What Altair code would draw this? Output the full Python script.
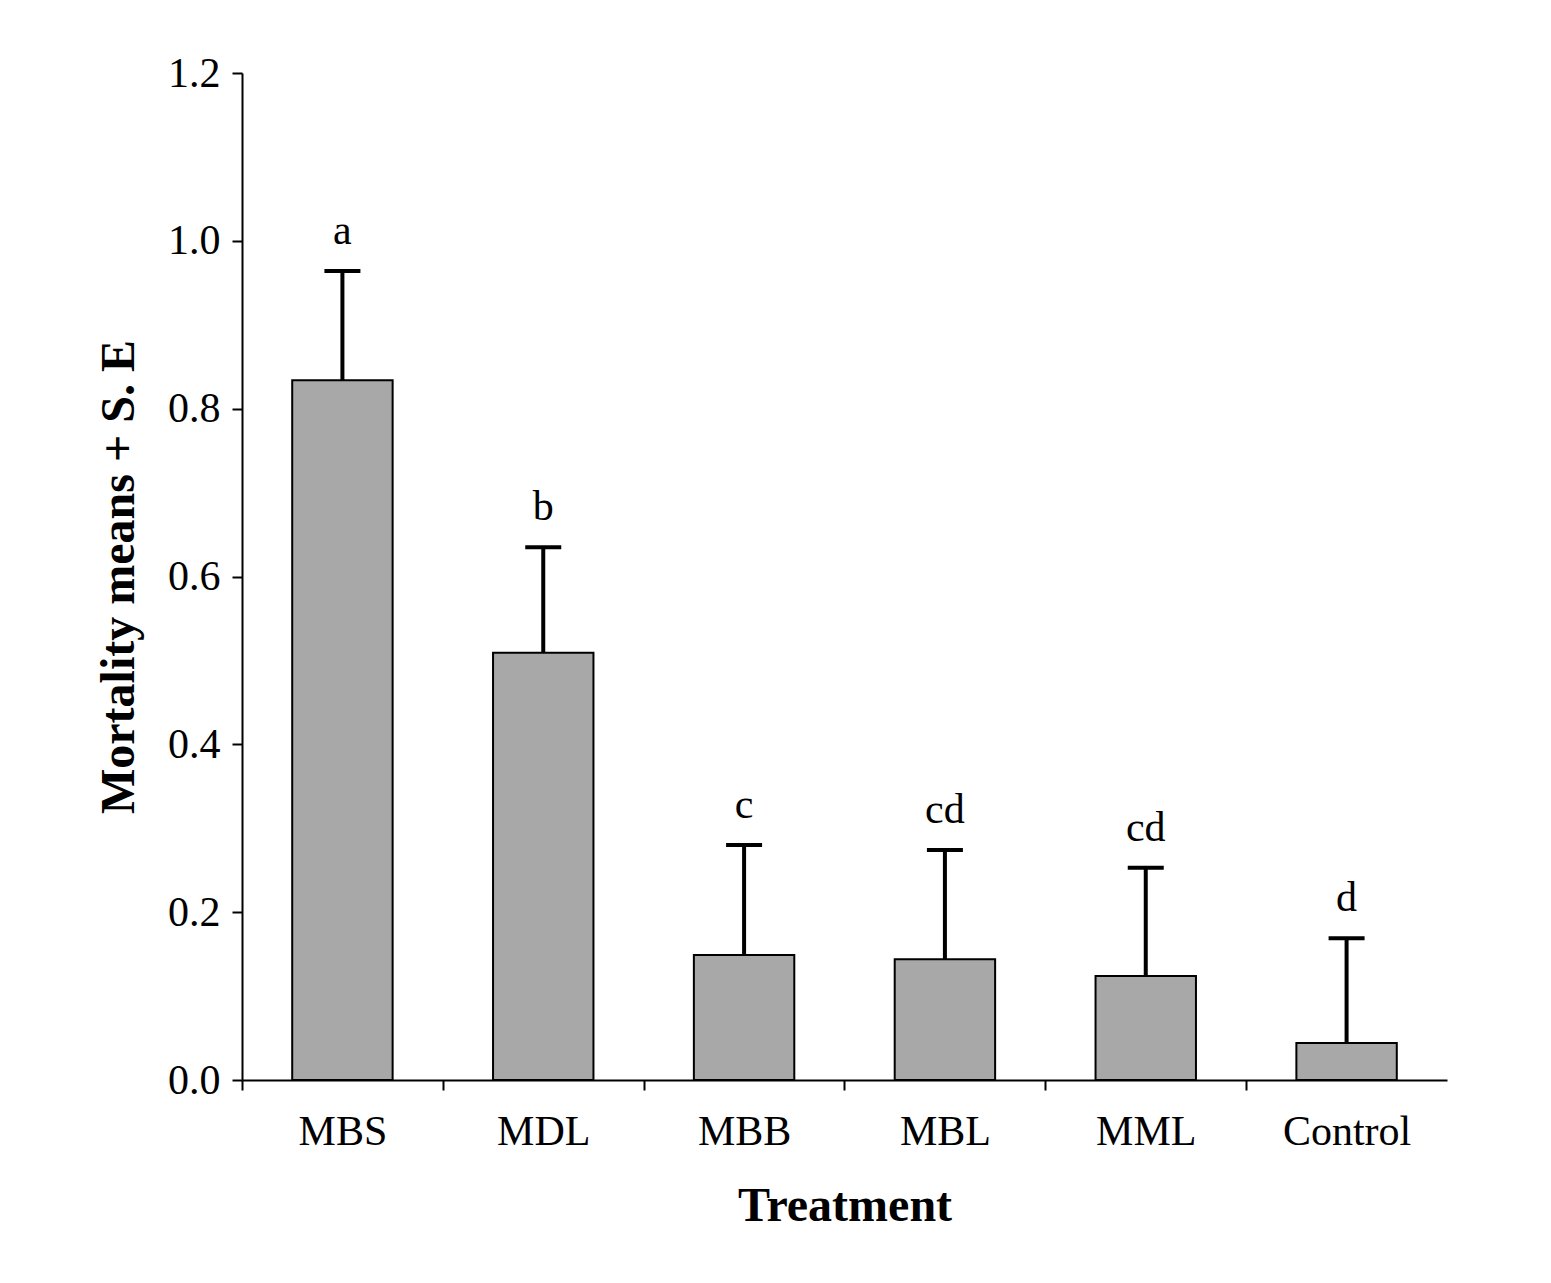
import altair as alt
import pandas as pd

treatments = ["MBS", "MDL", "MBB", "MBL", "MML", "Control"]
means = [0.834, 0.509, 0.149, 0.144, 0.124, 0.044]
upper = [0.964, 0.635, 0.280, 0.274, 0.253, 0.169]
letters = ["a", "b", "c", "cd", "cd", "d"]

df = pd.DataFrame({"treatment": treatments, "mean": means, "upper": upper, "letter": letters})

FONT = "Liberation Serif"
W, H = 1205, 1007
PAD_IN, PAD_OUT = 0.5, 0.25
STEP = W / (len(treatments) - PAD_IN + 2 * PAD_OUT)
HALF_GAP = STEP * PAD_IN / 2

x_scale = alt.Scale(domain=treatments, paddingInner=PAD_IN, paddingOuter=PAD_OUT)
y_scale = alt.Scale(domain=[0, 1.2], nice=False)

x_enc = alt.X("treatment:N", scale=x_scale, sort=treatments,
              axis=alt.Axis(title="Treatment", labelAngle=0, labelAlign="center", labelBaseline="top",
                            ticks=True, bandPosition=0, tickExtra=False, tickOffset=-HALF_GAP,
                            labelOffset=HALF_GAP,
                            tickSize=10, tickWidth=2, tickColor="black",
                            labelFont=FONT, labelFontSize=42, labelColor="black",
                            labelPadding=21, titleFont=FONT, titleFontSize=48,
                            titleFontWeight="bold", titleColor="black", titlePadding=30,
                            domainColor="black", domainWidth=2))
y_enc = alt.Y("mean:Q", scale=y_scale,
              axis=alt.Axis(title="Mortality means + S. E", values=[0, 0.2, 0.4, 0.6, 0.8, 1.0, 1.2],
                            format=".1f", grid=False, tickSize=10, tickWidth=2, tickColor="black",
                            labelFont=FONT, labelFontSize=42, labelColor="black", labelPadding=12,
                            titleFont=FONT, titleFontSize=48, titleFontWeight="bold",
                            titleColor="black", titlePadding=24,
                            domainColor="black", domainWidth=2))

base = alt.Chart(df)

bars = base.mark_bar(fill="#a8a8a8", stroke="black", strokeWidth=2, opacity=1).encode(
    x=x_enc, y=y_enc,
)
err_line = base.mark_rule(color="black", strokeWidth=4, opacity=1).encode(
    x=alt.X("treatment:N", scale=x_scale, sort=treatments),
    y=alt.Y("mean:Q", scale=y_scale),
    y2="upper:Q",
)
err_cap = base.mark_tick(color="black", orient="horizontal", size=36, thickness=4, opacity=1).encode(
    x=alt.X("treatment:N", scale=x_scale, sort=treatments),
    y=alt.Y("upper:Q", scale=y_scale),
)
labels = base.mark_text(font=FONT, fontSize=42, color="black", baseline="alphabetic", dy=-27).encode(
    x=alt.X("treatment:N", scale=x_scale, sort=treatments),
    y=alt.Y("upper:Q", scale=y_scale),
    text="letter:N",
)

chart = alt.layer(bars, err_line, err_cap, labels).properties(
    width=W, height=H,
    autosize=alt.AutoSizeParams(type="none"),
    padding={"left": 234, "top": 65, "right": 90, "bottom": 190},
).configure(background="white").configure_view(strokeWidth=0)

chart.save("out.html", embed_options={"renderer": "svg", "actions": False})
